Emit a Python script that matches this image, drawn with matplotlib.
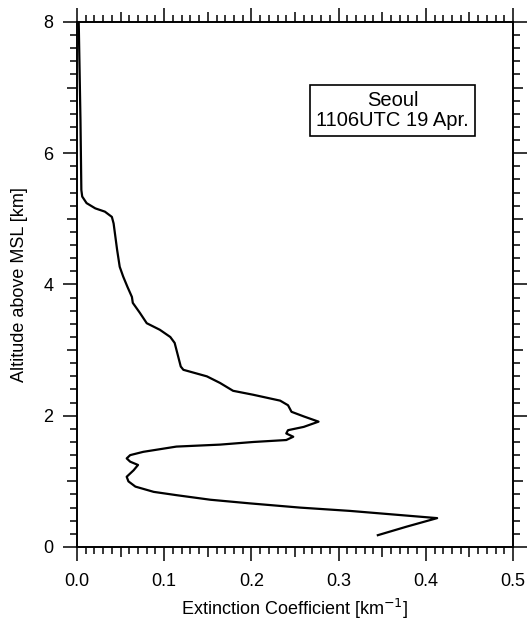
import matplotlib
matplotlib.use("Agg")
import matplotlib.pyplot as plt
from matplotlib.ticker import MultipleLocator

plt.rcParams["font.family"] = ["Liberation Sans", "DejaVu Sans"]

# lidar profile (bottom to top)
altitude_km = [0.18, 0.31, 0.44, 0.55, 0.60, 0.665, 0.72, 0.79, 0.84, 0.92,
               1.00, 1.07, 1.17, 1.25, 1.30, 1.35, 1.40, 1.45, 1.53, 1.56,
               1.60, 1.63, 1.68, 1.73, 1.78, 1.83, 1.91, 1.99, 2.06, 2.16,
               2.23, 2.32, 2.38, 2.50, 2.60, 2.70, 2.75, 3.11, 3.20, 3.31,
               3.41, 3.57, 3.72, 3.81, 3.96, 4.12, 4.27, 4.53, 4.73, 4.93,
               5.03, 5.11, 5.16, 5.24, 5.34, 5.44, 6.50, 8.00]
extinction = [0.345, 0.378, 0.413, 0.313, 0.256, 0.198, 0.153, 0.114, 0.088, 0.067,
              0.059, 0.057, 0.065, 0.070, 0.061, 0.057, 0.061, 0.076, 0.114, 0.164,
              0.202, 0.240, 0.248, 0.240, 0.242, 0.260, 0.277, 0.260, 0.246, 0.242,
              0.233, 0.202, 0.179, 0.164, 0.149, 0.122, 0.119, 0.112, 0.107, 0.095,
              0.080, 0.072, 0.064, 0.063, 0.058, 0.053, 0.049, 0.046, 0.044, 0.042,
              0.040, 0.032, 0.021, 0.011, 0.006, 0.005, 0.004, 0.002]

x_ticks = [0.0, 0.1, 0.2, 0.3, 0.4, 0.5]
y_ticks = [0, 2, 4, 6, 8]

fig = plt.figure(figsize=(5.28, 6.23), dpi=100)
ax = fig.add_axes([0.1458, 0.122, 0.8258, 0.8427])

ax.plot(extinction, altitude_km, color="black", linewidth=1.6,
        solid_joinstyle="round")

ax.set_xlim(0, 0.5)
ax.set_ylim(0, 8)
ax.set_xticks(x_ticks)
ax.set_xticklabels([f"{v:.1f}" for v in x_ticks])
ax.set_yticks(y_ticks)
ax.xaxis.set_minor_locator(MultipleLocator(0.01))
ax.yaxis.set_minor_locator(MultipleLocator(0.2))

ax.tick_params(which="both", direction="out", top=True, right=True,
               width=1.1, labelsize=13)
ax.tick_params(which="major", length=10)
ax.tick_params(which="minor", length=5)
ax.tick_params(axis="x", which="major", pad=9)
ax.tick_params(axis="y", which="major", pad=7)
for s in ax.spines.values():
    s.set_linewidth(1.4)

# half-way ticks (0.05 and odd km) a bit longer than the rest
for axis, step in ((ax.xaxis, 0.05), (ax.yaxis, 1.0)):
    locs = axis.get_minorticklocs()
    for loc, tick in zip(locs, axis.get_minor_ticks(len(locs))):
        if abs(loc / step - round(loc / step)) < 1e-6:
            tick.tick1line.set_markersize(7.5)
            tick.tick2line.set_markersize(7.5)

ax.set_xlabel("Extinction Coefficient [km$^{-1}$]", fontsize=13, labelpad=5)
ax.set_ylabel("Altitude above MSL [km]", fontsize=13, labelpad=11)

ax.text(0.7236, 0.832, "Seoul\n1106UTC 19 Apr.", transform=ax.transAxes,
        ha="center", va="center", fontsize=14.5, linespacing=1.05,
        bbox=dict(boxstyle="square,pad=0.3", facecolor="white",
                  edgecolor="black", linewidth=1.2))

fig.savefig("out.png", dpi=100)
